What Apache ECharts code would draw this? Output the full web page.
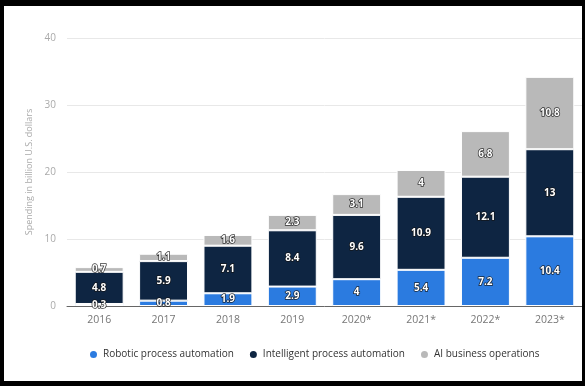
<!DOCTYPE html>
<html><head><meta charset="utf-8">
<script src="https://cdn.jsdelivr.net/npm/echarts@6/dist/echarts.min.js"></script>
<style>
html,body{margin:0;padding:0;background:#000;width:585px;height:386px;overflow:hidden;}
#c{position:absolute;left:4px;top:6px;width:578px;height:375px;background:#fff;}
</style></head>
<body><div id="c"></div>
<script>
const categories = ['2016','2017','2018','2019','2020*','2021*','2022*','2023*'];
const rpa = [0.3, 0.8, 1.9, 2.9, 4, 5.4, 7.2, 10.4];
const ipa = [4.8, 5.9, 7.1, 8.4, 9.6, 10.9, 12.1, 13];
const aiOps = [0.7, 1.1, 1.6, 2.3, 3.1, 4, 6.8, 10.8];
const seriesNames = ['Robotic process automation','Intelligent process automation','AI business operations'];
const colors = ['#2b7be0','#0e2542','#b9b9b9'];

const chart = echarts.init(document.getElementById('c'));
const lbl = {show:true, position:'inside', color:'#fff', fontWeight:'bold', fontSize:10,
  fontFamily:'Open Sans', textBorderColor:'rgba(20,20,20,0.85)', textBorderWidth:1.5};
function mk(name, data, color){
  return {name, type:'bar', stack:'t', data, barWidth:'76%',
    itemStyle:{color, borderColor:'#fff', borderWidth:1},
    label:lbl};
}
chart.setOption({
  animation:false,
  color:colors,
  grid:{left:63, top:32, width:515, height:268, containLabel:false},
  legend:{bottom:16, left:79, icon:'circle', itemWidth:9, itemHeight:9, itemGap:14,
    textStyle:{fontSize:10, color:'#333', fontWeight:500, fontFamily:'Open Sans'},
    data:seriesNames},
  xAxis:{type:'category', data:categories,
    axisLine:{lineStyle:{color:'#666'}}, axisTick:{show:false},
    axisLabel:{color:'#777', fontSize:10.5, margin:9, fontFamily:'Open Sans'}},
  yAxis:{type:'value', min:0, max:40, interval:10,
    name:'Spending in billion U.S. dollars', nameLocation:'middle', nameGap:24,
    nameTextStyle:{color:'#aaa', fontSize:9, fontFamily:'Open Sans'},
    axisLine:{show:false}, axisTick:{show:false},
    axisLabel:{color:'#aaa', fontSize:10, margin:11, fontFamily:'Open Sans'},
    splitLine:{lineStyle:{color:'#e8e8e8'}}},
  series:[mk(seriesNames[0], rpa, colors[0]), mk(seriesNames[1], ipa, colors[1]), mk(seriesNames[2], aiOps, colors[2])]
});
</script></body></html>
